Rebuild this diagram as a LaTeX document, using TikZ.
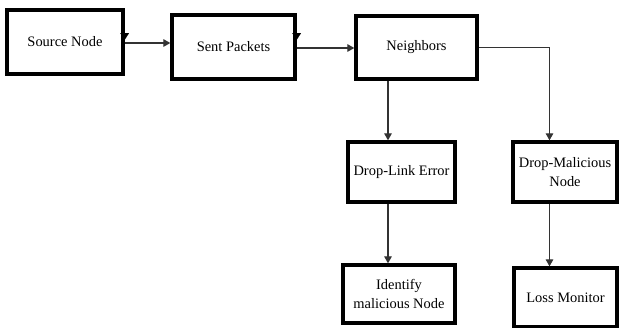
\documentclass[tikz,border=0pt]{standalone}
\usepackage{fontspec}
\setmainfont{Liberation Serif}
\usetikzlibrary{arrows.meta}
\begin{document}
\begin{tikzpicture}[x=1bp,y=-1bp,
  block/.style={draw=black,line width=3.3bp,inner sep=0pt,align=center,
    font=\fontsize{14.5}{18.5}\selectfont,text=black},
  link/.style={draw=black!80,line width=1.2bp},
  arr/.style={link,-{Triangle[length=7bp,width=7.5bp]}},
  edgetip/.style={fill=black}]
\useasboundingbox (0,0) rectangle (619,327);
\fill[white] (0,0) rectangle (619,327);

% main row
\node[block,minimum width=116bp,minimum height=64bp] (src) at (65,42) {Source Node};
\node[block,minimum width=123bp,minimum height=64bp] (sent) at (233.5,47) {Sent Packets};
\node[block,minimum width=121bp,minimum height=63bp] (nb) at (416.5,47.5) {Neighbors};

% branches
\node[block,minimum width=107bp,minimum height=60bp] (dl) at (401.5,172) {Drop-Link Error};
\node[block,minimum width=104bp,minimum height=60bp] (dm) at (565,172) {Drop-Malicious\\Node};
\node[block,minimum width=112bp,minimum height=58bp] (id) at (399,294) {Identify\\malicious Node};
\node[block,minimum width=103bp,minimum height=59bp] (lm) at (565.5,297.5) {Loss Monitor};

% columns of the vertical connectors
\coordinate (lx) at (388,0);
\coordinate (rx) at (549.5,0);

% small downward tips sitting on the right edges
\fill[edgetip] ([shift={(-4.5,-9)}]src.east) -- ([shift={(4.5,-9)}]src.east)
  -- ([shift={(0,-2)}]src.east) -- cycle;
\fill[edgetip] ([shift={(-4.5,-14)}]sent.east) -- ([shift={(4.5,-14)}]sent.east)
  -- ([shift={(0,-7)}]sent.east) -- cycle;

% connectors
\draw[arr] ([shift={(0,1)}]src.east) -- ([shift={(0,1)}]src.east -| sent.west);
\draw[arr] ([shift={(0,1)}]sent.east) -- ([shift={(0,1)}]sent.east -| nb.west);
\draw[arr] (nb.south -| lx) -- (dl.north -| lx);
\draw[arr] (nb.east) -| (dm.north -| rx);
\draw[arr] (dl.south -| lx) -- (id.north -| lx);
\draw[arr] (dm.south -| rx) -- (lm.north -| rx);
\end{tikzpicture}
\end{document}
